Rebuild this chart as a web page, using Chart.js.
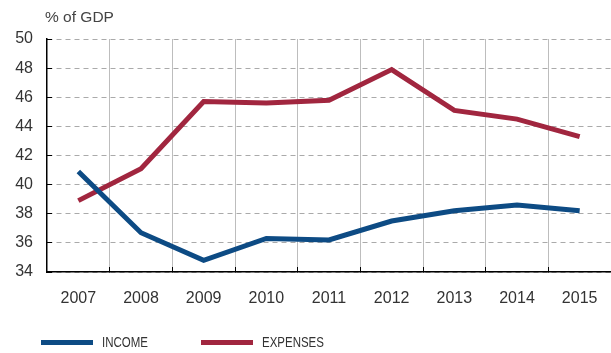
<!DOCTYPE html>
<html>
<head>
<meta charset="utf-8">
<script src="https://cdn.jsdelivr.net/npm/chart.js@4"></script>
<style>
  html, body { margin: 0; padding: 0; background: #fff; }
  #wrap { position: relative; width: 611px; height: 353px; }
  #legend {
    position: absolute; left: 41px; top: 334px;
    font-family: 'Liberation Sans', Arial, sans-serif;
    font-size: 14px; color: #333; display: flex; align-items: center;
  }
  .item { display: flex; align-items: center; }
  .swatch { width: 52px; height: 5px; margin-right: 9px; }
  .txt { display: inline-block; transform: scaleX(0.82); transform-origin: left center; }
</style>
</head>
<body>
<div id="wrap">
  <canvas id="chart" width="611" height="353"></canvas>
  <div id="legend"></div>
</div>
<script>
// Income vs expenses, % of GDP
const years = ['2007', '2008', '2009', '2010', '2011', '2012', '2013', '2014', '2015'];
const income = [40.9, 36.7, 34.8, 36.3, 36.2, 37.5, 38.2, 38.6, 38.2];
const expenses = [38.9, 41.1, 45.7, 45.6, 45.8, 47.9, 45.1, 44.5, 43.3];
const yTicks = [34, 36, 38, 40, 42, 44, 46, 48, 50];

const BLUE = '#0d4b84';
const RED = '#a1263f';

// "% of GDP" label above the y axis
const unitLabel = {
  id: 'unitLabel',
  afterDraw(chart) {
    const ctx = chart.ctx;
    ctx.save();
    ctx.font = '15.5px "Liberation Sans", Arial, sans-serif';
    ctx.fillStyle = '#444';
    ctx.textBaseline = 'middle';
    ctx.fillText('% of GDP', chart.chartArea.left - 2, 18);
    ctx.restore();
  }
};

const chart = new Chart(document.getElementById('chart'), {
  type: 'line',
  data: {
    labels: years,
    datasets: [
      { label: 'INCOME', data: income, borderColor: BLUE, backgroundColor: BLUE },
      { label: 'EXPENSES', data: expenses, borderColor: RED, backgroundColor: RED }
    ]
  },
  options: {
    responsive: false,
    animation: false,
    layout: { padding: { top: 39, right: 0, bottom: 41, left: 0 } },
    elements: {
      line: { borderWidth: 5, tension: 0, borderCapStyle: 'butt' },
      point: { radius: 0 }
    },
    plugins: {
      legend: { display: false },
      tooltip: { enabled: false }
    },
    scales: {
      x: {
        offset: true,
        grid: { offset: true, color: '#bdbdbd', tickColor: '#000', tickLength: -5 },
        border: { color: '#000', width: 1.5 },
        ticks: { color: '#333', padding: 22, font: { size: 16, family: '"Liberation Sans", Arial, sans-serif' } },
        afterFit: s => { s.height = 40; s.paddingLeft = 0; s.paddingRight = 0; }
      },
      y: {
        min: 34,
        max: 50,
        afterBuildTicks: s => { s.ticks = yTicks.map(v => ({ value: v })); },
        grid: { color: '#aaa', tickColor: '#000', tickLength: -5 },
        border: { color: '#000', width: 1.5, dash: [5, 4] },
        ticks: { color: '#333', padding: 19, font: { size: 16, family: '"Liberation Sans", Arial, sans-serif' } },
        afterFit: s => { s.width = 47; }
      }
    }
  },
  plugins: [unitLabel]
});

// html legend under the chart
const legendEl = document.getElementById('legend');
chart.data.datasets.forEach((ds, i) => {
  const item = document.createElement('div');
  item.className = 'item';
  if (i > 0) item.style.marginLeft = '43px';
  item.innerHTML = '<span class="swatch" style="background:' + ds.borderColor + '"></span><span class="txt">' + ds.label + '</span>';
  legendEl.appendChild(item);
});
</script>
</body>
</html>
